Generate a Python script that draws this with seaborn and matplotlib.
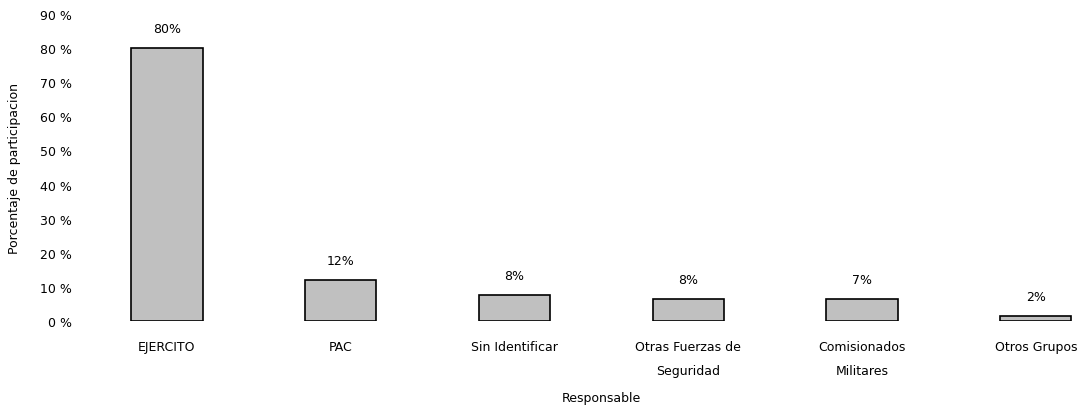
import matplotlib
matplotlib.use('Agg')
from matplotlib import pyplot as plt
import pandas as pd
import seaborn as sns

responsables = ['EJERCITO', 'PAC', 'Sin Identificar', 'Otras Fuerzas de\nSeguridad',
                'Comisionados\nMilitares', 'Otros Grupos']
porcentajes = [80, 12, 7.6, 6.5, 6.4, 1.6]
etiquetas = ['80%', '12%', '8%', '8%', '7%', '2%']
yticks = [0, 10, 20, 30, 40, 50, 60, 70, 80, 90]

df = pd.DataFrame({'Responsable': responsables, 'Porcentaje': porcentajes})

sns.set_style('white')
plt.rcParams['font.family'] = ['DejaVu Sans']
plt.rcParams['text.color'] = 'black'
plt.rcParams['xtick.color'] = 'black'
plt.rcParams['ytick.color'] = 'black'
plt.rcParams['axes.labelcolor'] = 'black'

fig = plt.figure(figsize=(10.88, 4.10), dpi=100)
ax = fig.add_axes([80 / 1088, 88 / 410, 1 - 80 / 1088, 307 / 410])

sns.barplot(data=df, x='Responsable', y='Porcentaje', color='#c0c0c0',
            saturation=1, width=0.41, edgecolor='black', linewidth=1.2, ax=ax)

# etiquetas de valor sobre cada barra
for i, (v, t) in enumerate(zip(porcentajes, etiquetas)):
    ax.text(i, v + 5.7, t, ha='center', va='center', fontsize=9)

ax.set_ylim(0, 90)
ax.set_xlim(-0.5, 5.3)
ax.set_yticks(yticks)
ax.set_yticklabels([f'{y} %' for y in yticks], fontsize=9)
ax.tick_params(axis='x', labelsize=9, pad=14, length=0)
for lbl in ax.get_xticklabels():
    lbl.set_linespacing(2.1)
ax.tick_params(axis='y', pad=5.5, length=0)
for s in ax.spines.values():
    s.set_visible(False)
ax.set_xlabel('Responsable', fontsize=9, va='center')
ax.xaxis.set_label_coords(521 / 1008, -77 / 307)
ax.set_ylabel('Porcentaje de participacion', fontsize=9, va='center')
ax.yaxis.set_label_coords(-65 / 1008, 0.5)

fig.savefig('out.png', dpi=100)
